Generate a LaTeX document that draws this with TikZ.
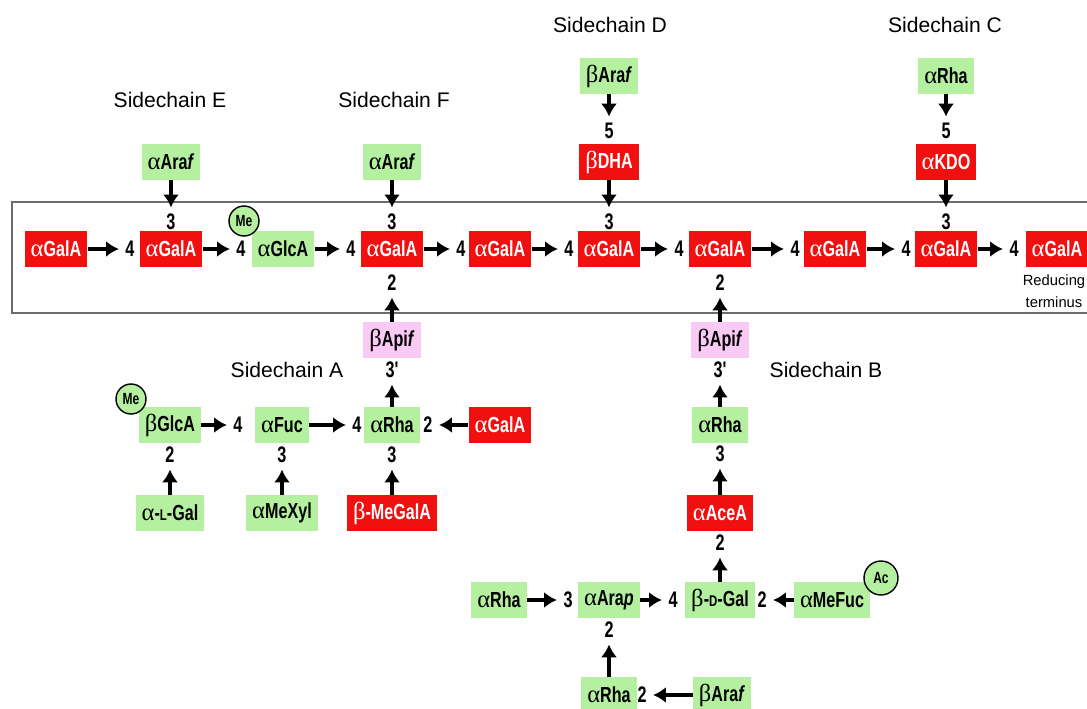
\documentclass[tikz,border=0pt]{standalone}
\usepackage{fontspec}
\setmainfont{Liberation Sans}
\newfontfamily\boxfont[FakeStretch=0.74]{Liberation Sans}
\newfontfamily\numfont[FakeStretch=0.72]{Liberation Sans}
\newfontfamily\greek{Liberation Serif}
\usetikzlibrary{arrows.meta}
\definecolor{galared}{RGB}{240,16,16}
\definecolor{sugargreen}{RGB}{180,240,160}
\definecolor{apipink}{RGB}{250,202,245}
\newcommand{\aG}{{\greek\mdseries\fontsize{17.5}{17.5}\selectfont α}}
\newcommand{\bG}{{\greek\mdseries\fontsize{17.5}{17.5}\selectfont β}}
\newcommand{\smc}[1]{{\fontsize{11}{11}\selectfont #1}}

\begin{document}
\begin{tikzpicture}
	[
	x=0.025cm, y=-0.025cm,
	sugar/.style={minimum height=0.88cm, inner xsep=0.15cm, inner ysep=0pt,
		font=\boxfont\bfseries\fontsize{15.5}{17}\selectfont},
	acidbox/.style={sugar, fill=galared, text=white},
	neutbox/.style={sugar, fill=sugargreen},
	apibox/.style={sugar, fill=apipink},
	num/.style={inner sep=1pt, font=\numfont\bfseries\fontsize{16}{16}\selectfont},
	chainlab/.style={font=\fontsize{15}{18}\selectfont},
	subst/.style={circle, draw, line width=1pt, fill=sugargreen, inner sep=0pt,
		minimum size=0.75cm, font=\boxfont\bfseries\fontsize{11.5}{11.5}\selectfont},
	link/.style={-{Latex[length=3.2mm,width=4mm]}, line width=3pt, shorten >=3.5pt},
	]
		\useasboundingbox (0,0) rectangle (1087,709);
		
		% backbone frame
		\draw[gray!85!black, line width=1.3pt] (12,202) rectangle (1110,313);
		
		% backbone
		\node[acidbox] (g1) at 		(  56, 249 ) {\aG GalA};
		\node[num]     (n2) at 		( 130, 249 ) {4};
		\node[acidbox] (g2) at 		( 171, 249 ) {\aG GalA};
		\node[num]     (n3) at 		( 241, 249 ) {4};
		\node[neutbox] (g3) at 		( 283, 249 ) {\aG GlcA};
		\node[num]     (n4) at 		( 351, 249 ) {4};
		\node[acidbox] (g4) at 		( 392, 249 ) {\aG GalA};
		\node[num]     (n5) at 		( 461, 249 ) {4};
		\node[acidbox] (g5) at 		( 500, 249 ) {\aG GalA};
		\node[num]     (n6) at 		( 569, 249 ) {4};
		\node[acidbox] (g6) at 		( 609, 249 ) {\aG GalA};
		\node[num]     (n7) at 		( 679, 249 ) {4};
		\node[acidbox] (g7) at 		( 720, 249 ) {\aG GalA};
		\node[num]     (n8) at 		( 795, 249 ) {4};
		\node[acidbox] (g8) at 		( 835, 249 ) {\aG GalA};
		\node[num]     (n9) at 		( 906, 249 ) {4};
		\node[acidbox] (g9) at 		( 946, 249 ) {\aG GalA};
		\node[num]     (n10) at 	(1014, 249 ) {4};
		\node[acidbox] (g10) at 	(1057, 249 ) {\aG GalA};
		\node[align=center, font=\fontsize{10.5}{15.5}\selectfont] (rt) at (1054, 291) {Reducing\\terminus};
		\node[subst]   (me1) at 	( 244, 221 ) {Me};
		
		% sidechain E
		\node[chainlab] (le) at 	( 170, 100 ) {Sidechain E};
		\node[neutbox] (e1) at 		( 171, 162 ) {\aG Ara\textit{f}};
		\node[num]     (e1n) at 	( 171, 222 ) {3};
		
		% sidechain F
		\node[chainlab] (lf) at 	( 394, 100 ) {Sidechain F};
		\node[neutbox] (f1) at 		( 392, 162 ) {\aG Ara\textit{f}};
		\node[num]     (f1n) at 	( 392, 222 ) {3};
		
		% sidechain D
		\node[chainlab] (ld) at 	( 610,  25 ) {Sidechain D};
		\node[neutbox] (d2) at 		( 609,  76 ) {\bG Ara\textit{f}};
		\node[num]     (d2n) at 	( 609, 131 ) {5};
		\node[acidbox] (d1) at 		( 609, 162 ) {\bG DHA};
		\node[num]     (d1n) at 	( 609, 222 ) {3};
		
		% sidechain C
		\node[chainlab] (lc) at 	( 945,  25 ) {Sidechain C};
		\node[neutbox] (c2) at 		( 946,  76 ) {\aG Rha};
		\node[num]     (c2n) at 	( 946, 131 ) {5};
		\node[acidbox] (c1) at 		( 946, 162 ) {\aG KDO};
		\node[num]     (c1n) at 	( 946, 222 ) {3};
		
		% sidechain A
		\node[num]     (a1n) at 	( 392, 283 ) {2};
		\node[apibox]  (a1) at 		( 392, 340 ) {\bG Api\textit{f}};
		\node[num]     (a2n) at 	( 392, 370 ) {3'};
		\node[chainlab] (la) at 	( 287, 370 ) {Sidechain A};
		\node[neutbox] (a2) at 		( 392, 425 ) {\aG Rha};
		\node[num]     (a2w) at 	( 357, 425 ) {4};
		\node[num]     (a2e) at 	( 428, 425 ) {2};
		\node[num]     (a2s) at 	( 392, 455 ) {3};
		\node[acidbox] (a5) at 		( 500, 425 ) {\aG GalA};
		\node[acidbox] (a6) at 		( 392, 513 ) {\bG-MeGalA};
		\node[neutbox] (a3) at 		( 282, 425 ) {\aG Fuc};
		\node[num]     (a3w) at 	( 238, 425 ) {4};
		\node[num]     (a3s) at 	( 282, 455 ) {3};
		\node[neutbox] (a7) at 		( 282, 513 ) {\aG MeXyl};
		\node[neutbox] (a4) at 		( 170, 425 ) {\bG GlcA};
		\node[num]     (a4s) at 	( 170, 455 ) {2};
		\node[neutbox] (a8) at 		( 170, 513 ) {\aG-\smc{L}-Gal};
		\node[subst]   (me2) at 	( 131, 399 ) {Me};
		
		% sidechain B
		\node[num]     (b1n) at 	( 720, 283 ) {2};
		\node[apibox]  (b1) at 		( 720, 340 ) {\bG Api\textit{f}};
		\node[num]     (b2n) at 	( 720, 370 ) {3'};
		\node[chainlab] (lb) at 	( 826, 370 ) {Sidechain B};
		\node[neutbox] (b2) at 		( 720, 425 ) {\aG Rha};
		\node[num]     (b3n) at 	( 720, 454 ) {3};
		\node[acidbox] (b3) at 		( 720, 513 ) {\aG AceA};
		\node[num]     (b4n) at 	( 720, 543 ) {2};
		\node[neutbox] (b4) at 		( 720, 600 ) {\bG-\smc{D}-Gal};
		\node[num]     (b4w) at 	( 673, 600 ) {4};
		\node[num]     (b4e) at 	( 762, 600 ) {2};
		\node[neutbox] (b7) at 		( 832, 600 ) {\aG MeFuc};
		\node[subst, minimum size=0.85cm] (ac) at ( 881, 578 ) {Ac};
		\node[neutbox] (b5) at 		( 609, 600 ) {\aG Ara\textit{p}};
		\node[num]     (b5w) at 	( 568, 600 ) {3};
		\node[num]     (b5s) at 	( 609, 630 ) {2};
		\node[neutbox] (b6) at 		( 499, 600 ) {\aG Rha};
		\node[neutbox] (b8) at 		( 609, 695 ) {\aG Rha};
		\node[num]     (b8e) at 	( 642, 695 ) {2};
		\node[neutbox] (b9) at 		( 722, 695 ) {\bG Ara\textit{f}};
		
		\foreach \from/\to in {g1/n2,g2/n3,g3/n4,g4/n5,g5/n6,g6/n7,g7/n8,g8/n9,g9/n10}
			\draw[link] (\from) -- (\to);
		\foreach \from/\to in {e1/e1n,f1/f1n,d2/d2n,d1/d1n,c2/c2n,c1/c1n}
			\draw[link] (\from) -- (\to);
		\foreach \from/\to in {a1/a1n,a2/a2n,a3/a2w,a4/a3w,a5/a2e,a6/a2s,a7/a3s,a8/a4s}
			\draw[link] (\from) -- (\to);
		\foreach \from/\to in {b1/b1n,b2/b2n,b3/b3n,b4/b4n,b5/b4w,b6/b5w,b7/b4e,b8/b5s,b9/b8e}
			\draw[link] (\from) -- (\to);
		
	\end{tikzpicture}
\end{document}
